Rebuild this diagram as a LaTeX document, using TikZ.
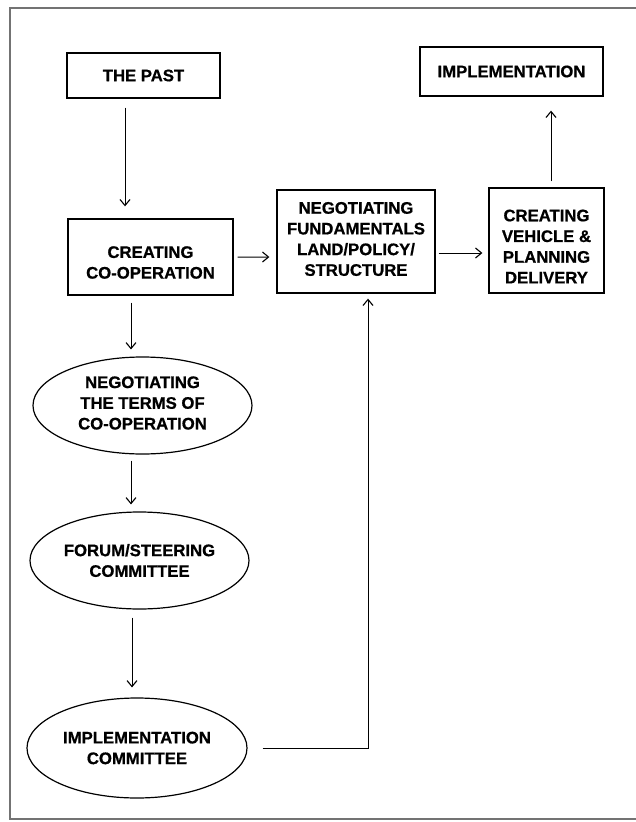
\documentclass[tikz,border=0pt]{standalone}
\usepackage{fontspec}
\setmainfont{Liberation Sans}[BoldFeatures={FakeBold=0.8}]
\usetikzlibrary{shapes.geometric,arrows.meta,calc}
\begin{document}
\begin{tikzpicture}[x=1bp,y=-1bp,
  lbl/.style={font=\fontsize{16.7bp}{20.7bp}\selectfont\bfseries, align=center, inner sep=0pt},
  boxn/.style={lbl, draw, line width=1.3bp, rectangle},
  ovaln/.style={lbl, draw, line width=1.2bp, ellipse},
  arr/.style={line width=1bp, -{Straight Barb[length=6bp,width=10bp,line width=1.1bp]}},
  framec/.style={draw=black!55, line width=1.2bp}
]
\useasboundingbox (0,0) rectangle (636,822);
% outer frame
\draw[framec] (636,8) -- (10,8) -- (10,819) -- (636,819);

% nodes
\node[boxn, minimum width=153bp, minimum height=45bp] (past) at (143.5,75.5) {THE PAST};
\node[boxn, minimum width=183bp, minimum height=49bp] (impl) at (511.5,71.5) {IMPLEMENTATION};
\node[boxn, minimum width=165bp, minimum height=76bp] (coop) at (150.5,257) {};
\node[lbl] (coopt) at ($(coop.center)+(0,5.5)$) {CREATING\\CO-OPERATION};
\node[boxn, minimum width=158bp, minimum height=103bp] (negf) at (356,241.5) {};
\node[lbl] (negft) at ($(negf.center)+(0,-2.5)$) {NEGOTIATING\\FUNDAMENTALS\\LAND/POLICY/\\STRUCTURE};
\node[boxn, minimum width=115bp, minimum height=105bp] (veh) at (546.5,240.5) {};
\node[lbl] (veht) at ($(veh.center)+(0,6)$) {CREATING\\VEHICLE \&\\PLANNING\\DELIVERY};
\node[ovaln, minimum width=219bp, minimum height=97bp] (e1) at (142.5,405.5) {};
\node[lbl] (e1t) at ($(e1.center)+(0,-2.5)$) {NEGOTIATING\\THE TERMS OF\\CO-OPERATION};
\node[ovaln, minimum width=219bp, minimum height=97bp] (e2) at (139.5,560.5) {FORUM/STEERING\\COMMITTEE};
\node[ovaln, minimum width=220bp, minimum height=100bp] (e3) at (137,748) {IMPLEMENTATION\\COMMITTEE};

% connectors
\draw[arr] ($(past.south)+(-18.5,9)$) -- ($(coop.north)+(-25.5,-12)$);
\draw[arr] ($(coop.east)+(4,0)$) -- ($(negf.west)+(-7,15.5)$);
\draw[arr] ($(negf.east)+(3,11.5)$) -- ($(veh.west)+(-6,12.5)$);
\draw[arr] ($(veh.north)+(4.5,-6)$) -- ($(impl.south)+(39.5,14)$);
\draw[arr] ($(coop.south)+(-19.5,7)$) -- ($(e1.north)+(-11.5,-7)$);
\draw[arr] ($(e1.south)+(-11.5,6)$) -- ($(e2.north)+(-8.5,-7)$);
\draw[arr] ($(e2.south)+(-7.5,8)$) -- ($(e3.north)+(-5,-10)$);
\draw[arr] ($(e3.east)+(15,0)$) -| ($(negf.south)+(12,5)$);
\end{tikzpicture}
\end{document}
